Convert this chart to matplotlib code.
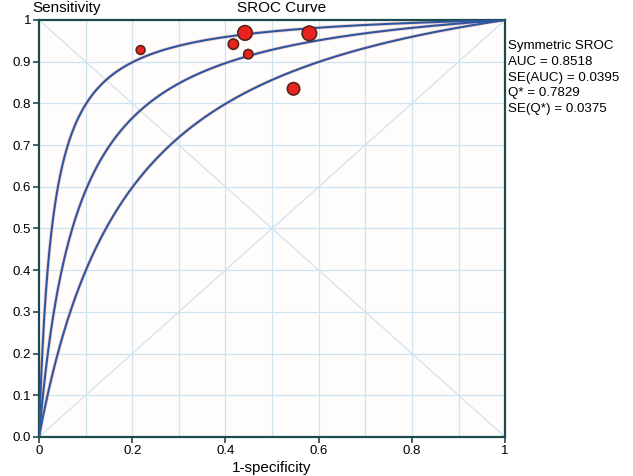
import numpy as np
import matplotlib
matplotlib.use("Agg")
import matplotlib.pyplot as plt

plt.rcParams["font.family"] = ["Liberation Sans", "DejaVu Sans"]

# study points (1-specificity, sensitivity, relative weight)
fpr = [0.218, 0.417, 0.442, 0.449, 0.58, 0.546]
tpr = [0.928, 0.942, 0.969, 0.918, 0.968, 0.835]
weight = [40, 55, 110, 45, 110, 80]

# symmetric SROC: pooled diagnostic odds ratio and its CI bounds
dor_mid = 13.0
dor_lo = 5.96
dor_hi = 35.4

stats_lines = ["Symmetric SROC", "AUC = 0.8518", "SE(AUC) = 0.0395",
               "Q* = 0.7829", "SE(Q*) = 0.0375"]

grid_c = "#cfe3ef"
curve_c = "#2d56a0"
frame_c = "#1d4a4c"


def sroc(x, dor):
    odds = dor * x / (1 - x)
    return odds / (1 + odds)


fig = plt.figure(figsize=(6.33, 4.76), dpi=100)
ax = fig.add_axes([0.0616, 0.082, 0.7364, 0.876])
ax.set_facecolor("#fffdfc")

for v in np.arange(0.1, 1.0, 0.1):
    ax.axvline(v, color=grid_c, lw=0.9, zorder=1)
    ax.axhline(v, color=grid_c, lw=0.9, zorder=1)
ax.plot([0, 1], [0, 1], color=grid_c, lw=0.9, zorder=1)
ax.plot([0, 1], [1, 0], color=grid_c, lw=0.9, zorder=1)

xs = np.linspace(1e-5, 1 - 1e-6, 800)
for d in [dor_lo, dor_mid, dor_hi]:
    ax.plot(xs, sroc(xs, d), color="#f2b8b0", lw=2.6, zorder=2, alpha=0.6)
    ax.plot(xs, sroc(xs, d), color=curve_c, lw=1.5, zorder=3)

ax.scatter(fpr, tpr, s=weight, color="#e8231f", edgecolor="#5a2418",
           linewidth=1.2, zorder=5)

ax.set_xlim(0, 1)
ax.set_ylim(0, 1)
ax.set_xticks([0, 0.2, 0.4, 0.6, 0.8, 1])
ax.set_xticklabels(["0", "0.2", "0.4", "0.6", "0.8", "1"])
ax.set_yticks(np.round(np.arange(0, 1.01, 0.1), 1))
ax.set_yticklabels(["0.0"] + ["%.1f" % v for v in np.arange(0.1, 0.95, 0.1)] + ["1"])
ax.tick_params(labelsize=9.5, length=4, width=1.2, color=frame_c, pad=1.5)
for s in ax.spines.values():
    s.set_color(frame_c)
    s.set_linewidth(1.6)

ax.set_xlabel("1-specificity", fontsize=11, labelpad=3)
fig.text(32 / 633, 0.983, "Sensitivity", fontsize=11, va="center", ha="left")
fig.text(282 / 633, 0.983, "SROC Curve", fontsize=11, va="center", ha="center")

for i, line in enumerate(stats_lines):
    fig.text(0.803, 0.903 - i * 0.0331, line, fontsize=9.6, va="center", ha="left")

fig.savefig("out.png", dpi=100)
